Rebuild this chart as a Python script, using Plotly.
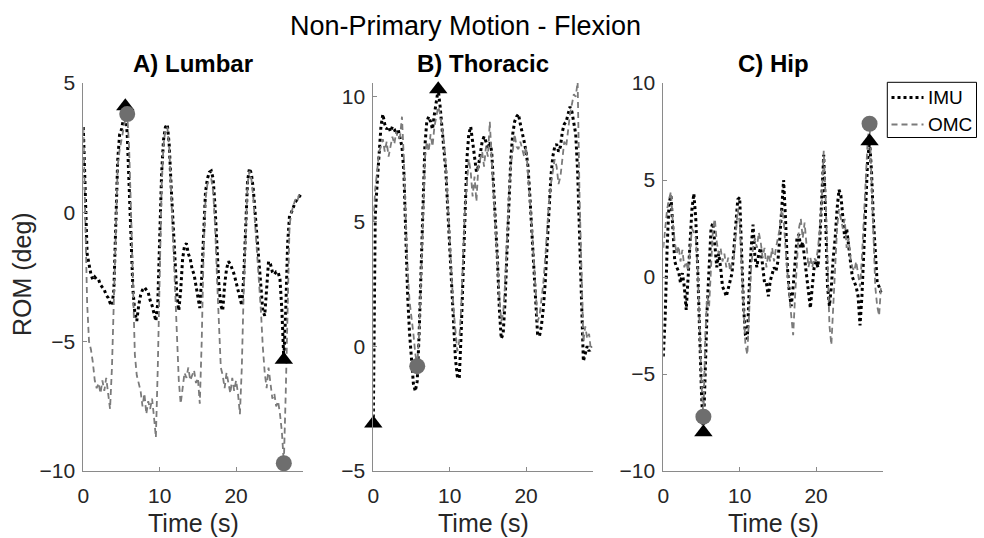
import numpy as np
import plotly.graph_objects as go

# Sampling grid (s) shared by every recording
time_s = np.arange(115) * 0.25

panel_titles = ["A) Lumbar", "B) Thoracic", "C) Hip"]
x_ticks = [0, 10, 20]
y_ticks = [[-10, -5, 0, 5], [-5, 0, 5, 10], [-10, -5, 0, 5, 10]]
y_ranges = [[-10, 5], [-5, 10.55], [-10, 10]]
legend_labels = ["IMU", "OMC"]

lumbar_imu = [
    3.3, 0.5, -1.6, -2.0,
    -2.4, -2.6, -2.5, -2.6,
    -2.6, -2.8, -2.9, -3.0,
    -3.2, -3.3, -3.5, -3.6,
    -3.0, -0.5, 2.0, 3.0,
    3.2, 3.6, 4.1, 3.0,
    1.0, -1.0, -3.0, -3.9,
    -4.2, -3.6, -3.2, -3.0,
    -2.9, -3.0, -3.1, -3.4,
    -3.6, -3.9, -4.2, -3.5,
    -1.0, 1.5, 2.8, 3.3,
    3.4, 2.6, 1.0, -0.5,
    -2.0, -3.2, -3.8, -3.0,
    -1.8, -1.3, -1.2, -1.6,
    -1.8, -2.2, -2.4, -2.8,
    -3.3, -3.7, -2.5, -0.5,
    0.8, 1.3, 1.55, 1.6,
    1.3, 0.2, -1.5, -2.8,
    -3.6, -3.8, -2.8, -2.2,
    -1.9, -2.0, -2.2, -2.4,
    -2.7, -3.0, -3.4, -3.6,
    -2.5, -0.5, 1.2, 1.7,
    1.5, 0.9, 0.0, -1.0,
    -2.0, -3.0, -3.8, -4.0,
    -3.0, -1.9, -2.0, -2.3,
    -2.4, -2.3, -2.3, -2.6,
    -3.8, -5.7, -3.8, -1.2,
    -0.1, 0.0, 0.2, 0.4,
    0.5, 0.6, 0.7,
]
lumbar_omc = [
    3.3, 0.0, -3.5, -5.0,
    -5.3, -5.8, -6.5, -6.8,
    -6.6, -7.0, -6.5, -6.9,
    -6.4, -7.0, -7.6, -6.0,
    -3.5, -0.5, 1.8, 2.4,
    2.8, 3.3, 3.6, 3.8,
    2.5, 0.0, -3.0, -5.5,
    -6.3, -6.6, -6.9, -7.5,
    -7.0, -7.8, -7.3, -7.6,
    -7.2, -7.9, -8.7, -6.0,
    -2.0, 1.0, 2.6, 3.2,
    3.3, 2.5, 0.8, -1.0,
    -3.0, -5.0, -6.5, -7.4,
    -6.8, -6.2, -6.4, -6.0,
    -6.5, -6.3, -6.1, -6.6,
    -6.4, -7.4, -5.0, -1.5,
    0.5, 1.1, 1.2, 1.3,
    0.8, -0.5, -2.5, -4.5,
    -6.0, -6.3, -6.8, -6.2,
    -6.6, -7.0, -6.4, -6.9,
    -6.5, -7.0, -7.8, -6.0,
    -3.0, -0.5, 1.1, 1.6,
    1.3, 0.6, -0.5, -1.5,
    -2.5, -3.8, -5.2, -6.2,
    -6.8, -6.0, -6.6, -7.2,
    -7.0, -7.5, -7.3, -7.8,
    -8.5, -9.7, -7.0, -3.0,
    -0.5, 0.0, 0.3, 0.5,
    0.4, 0.7, 0.6,
]

thoracic_imu = [
    -3.1, 5.2, 6.5, 7.5,
    8.8, 9.3, 8.9, 8.7,
    8.8, 8.6, 8.8, 8.7,
    8.5, 8.7, 8.3, 8.0,
    7.0, 4.5, 2.0, 0.5,
    -0.5, -1.5, -1.8, -1.4,
    0.5, 3.0, 6.0, 8.0,
    9.0, 9.2, 9.0, 8.7,
    9.3, 9.8, 10.3, 9.6,
    8.8, 8.0, 7.0, 5.5,
    4.0, 2.5, 1.0, -0.5,
    -1.2, -1.3, 0.5, 3.0,
    5.5, 7.5, 8.5, 8.8,
    8.2, 7.6, 7.0, 7.2,
    7.8, 8.2, 8.4, 8.2,
    7.9, 8.2, 7.8, 6.5,
    5.0, 3.5, 1.5, 0.3,
    0.5, 1.8, 3.8, 5.8,
    7.5, 8.5, 9.0, 9.2,
    9.3, 8.9, 8.6, 8.2,
    7.8, 7.2, 6.0, 4.5,
    3.0, 1.5, 0.5, 0.4,
    0.8, 1.5, 2.5, 4.0,
    5.5, 6.8, 7.6, 8.0,
    8.1, 7.8, 8.0, 8.6,
    8.9, 9.0, 9.3, 9.6,
    9.4, 9.0, 8.5, 7.0,
    4.5, 1.5, -0.6, -0.3,
    0.0, -0.2, 0.0,
]
thoracic_omc = [
    5.0, 6.3, 7.0, 7.8,
    8.0, 8.3, 7.8, 8.2,
    7.6, 8.0, 8.4, 8.1,
    8.6, 8.3, 8.4, 9.2,
    7.5, 5.0, 3.0, 1.8,
    1.2, 0.5, -0.3, -0.8,
    0.5, 2.5, 5.0, 7.5,
    8.2, 7.8, 8.5, 8.0,
    8.8, 9.2, 9.6, 9.3,
    8.7, 8.2, 7.2, 5.6,
    4.0, 2.8, 1.5, 0.5,
    -0.2, 0.2, 1.5, 3.5,
    5.5, 6.5, 7.5, 7.0,
    6.0, 6.8, 5.8, 7.2,
    7.5, 7.8, 7.2, 8.0,
    7.6, 9.0, 7.5, 6.0,
    4.8, 3.5, 2.0, 1.0,
    1.3, 2.5, 4.5, 6.0,
    7.3, 7.8, 8.5, 8.0,
    7.9, 8.2, 7.9, 7.6,
    8.0, 7.0, 6.0, 4.8,
    3.5, 2.2, 1.0, 1.2,
    1.8, 2.5, 3.5, 4.8,
    5.8, 6.5, 7.0, 7.5,
    7.2, 6.5, 6.8, 7.5,
    8.2, 8.0, 8.8, 9.3,
    9.7, 10.1, 10.0, 10.6,
    6.0, 2.5, 0.2, 0.8,
    0.3, 0.5, -0.2,
]

hip_imu = [
    -4.1, -2.0, 1.5, 3.8,
    4.2, 2.5, 0.8, 0.5,
    0.3, -0.3, 0.2, -0.5,
    -1.7, 0.0, 2.0, 3.5,
    4.3, 3.0, 0.5, -3.0,
    -6.0, -8.0, -4.0, -1.5,
    0.5, 2.5, 2.8, 1.5,
    0.5, 1.2, 0.5, -0.5,
    -0.7, -1.0, -0.6, -0.3,
    0.2, 1.5, 3.0, 4.0,
    4.1, 1.5, -1.5, -3.0,
    -3.2, -0.5, 1.5, 2.7,
    1.0, 0.5, 1.2, 1.5,
    0.5, -0.3, -0.3, -1.0,
    -0.2, 0.2, 0.5, 0.3,
    0.8, 2.0, 3.5, 5.0,
    3.0, 0.5, -0.8, -1.5,
    -0.5, 1.0, 2.0, 2.2,
    1.5, 1.8, 1.0, 0.0,
    -0.8, -1.6, -0.5, 0.5,
    0.8, 0.5, 2.0, 4.5,
    6.3, 3.0, -0.5, -1.5,
    -0.5, 1.0, 2.0, 3.5,
    4.5, 4.2, 3.0, 2.0,
    2.5, 1.5, 0.8, 0.0,
    -0.3, -0.5, -1.0, -2.5,
    -1.0, 1.5, 4.0, 6.0,
    7.0, 5.5, 3.0, 1.0,
    -0.3, -0.5, -0.8,
]
hip_omc = [
    1.5, 2.5, 3.5, 4.0,
    4.4, 2.8, 1.8, 1.2,
    1.6, 0.8, 1.4, 0.5,
    0.8, 0.3, 1.5, 2.5,
    2.3, 2.0, 0.5, -3.0,
    -5.5, -7.2, -3.0, -1.0,
    -1.5, 0.5, 2.5, 3.0,
    1.8, 1.2, 1.5, 0.8,
    1.2, 0.5, 1.0, 0.3,
    0.8, 1.0, 2.5, 3.5,
    2.8, 0.5, -2.0, -3.5,
    -4.0, -2.0, 0.5, 1.5,
    2.0, 1.5, 2.3, 1.8,
    1.0, 1.5, 0.5, 1.2,
    0.8, 1.5, 0.8, 1.5,
    2.0, 2.5, 3.5, 3.0,
    1.5, 0.0, -1.0, -2.0,
    -3.0, -1.0, 1.0, 2.5,
    3.0, 2.0, 2.8, 1.5,
    0.5, 1.0, 0.5, 1.0,
    0.8, 1.5, 2.5, 4.0,
    6.5, 4.0, 0.0, -2.5,
    -3.5, -1.5, 1.0, 2.5,
    3.5, 3.0, 2.5, 3.0,
    1.5, 2.0, 1.0, 0.5,
    0.3, 0.8, 0.0, -0.5,
    1.0, 3.0, 5.5, 7.0,
    7.9, 5.0, 2.0, -0.5,
    -1.5, -2.0, -0.5,
]

imu_series = [lumbar_imu, thoracic_imu, hip_imu]
omc_series = [lumbar_omc, thoracic_omc, hip_omc]

W, H = 984, 538
x_px = [(83.3, 303.3), (373.3, 593.3), (663.3, 883.3)]
y_dom = [1 - 471 / H, 1 - 83 / H]
TEXT = "#262626"
AXIS = "#8a8a8a"
FONT = "Liberation Sans, Arial, sans-serif"
IMU_COLOR = "#000000"
OMC_COLOR = "#7b7b7b"
IMU_LINE = dict(color=IMU_COLOR, width=3, dash="3px,3px")
OMC_LINE = dict(color=OMC_COLOR, width=1.8, dash="6px,4px")


def px(x):
    return x / W


def py(y):
    return 1 - y / H


fig = go.Figure()

for i in range(3):
    xa = "x" if i == 0 else f"x{i + 1}"
    ya = "y" if i == 0 else f"y{i + 1}"
    imu = np.array(imu_series[i])
    omc = np.array(omc_series[i])

    fig.add_trace(go.Scatter(
        x=time_s, y=imu, mode="lines", name=legend_labels[0],
        showlegend=False, xaxis=xa, yaxis=ya, line=IMU_LINE,
    ))
    fig.add_trace(go.Scatter(
        x=time_s, y=omc, mode="lines", name=legend_labels[1],
        showlegend=False, xaxis=xa, yaxis=ya, line=OMC_LINE,
    ))

    # Extremes of each recording
    imu_idx = [int(np.argmax(imu)), int(np.argmin(imu))]
    omc_idx = [int(np.argmax(omc)), int(np.argmin(omc))]
    fig.add_trace(go.Scatter(
        x=time_s[imu_idx], y=imu[imu_idx], mode="markers", showlegend=False,
        xaxis=xa, yaxis=ya, cliponaxis=False,
        marker=dict(symbol="triangle-up", size=16, color=IMU_COLOR),
    ))
    fig.add_trace(go.Scatter(
        x=time_s[omc_idx], y=omc[omc_idx], mode="markers", showlegend=False,
        xaxis=xa, yaxis=ya, cliponaxis=False,
        marker=dict(symbol="circle", size=16, color="#6e6e6e"),
    ))

axis_common = dict(
    showline=True, linecolor=AXIS, linewidth=1, mirror=False,
    showgrid=False, zeroline=False, ticks="inside", ticklen=4,
    tickcolor=AXIS, tickwidth=1, automargin=False,
    tickfont=dict(family=FONT, size=21, color=TEXT),
)

layout = {}
for i in range(3):
    key = "" if i == 0 else str(i + 1)
    x0, x1 = x_px[i]
    layout[f"xaxis{key}"] = dict(
        axis_common, domain=[px(x0), px(x1)], range=[0, 28.8],
        tickvals=x_ticks, anchor=f"y{key}", ticklabelstandoff=6,
    )
    layout[f"yaxis{key}"] = dict(
        axis_common, domain=y_dom, range=y_ranges[i],
        tickvals=y_ticks[i], anchor=f"x{key}", ticklabelstandoff=3,
    )

annotations = [
    dict(text="Non-Primary Motion - Flexion", x=px(465.5), y=py(26),
         xref="paper", yref="paper", showarrow=False, xanchor="center",
         yanchor="middle", font=dict(family=FONT, size=27, color="#000000")),
    dict(text="ROM (deg)", x=px(22), y=py(274), xref="paper", yref="paper",
         showarrow=False, textangle=-90, xanchor="center", yanchor="middle",
         font=dict(family=FONT, size=25, color=TEXT)),
]
for i in range(3):
    cx = px((x_px[i][0] + x_px[i][1]) / 2)
    annotations.append(dict(
        text=f"<b>{panel_titles[i]}</b>", x=cx, y=py(64),
        xref="paper", yref="paper", showarrow=False, xanchor="center",
        yanchor="middle", font=dict(family=FONT, size=24, color="#000000")))
    annotations.append(dict(
        text="Time (s)", x=cx, y=py(523), xref="paper", yref="paper",
        showarrow=False, xanchor="center", yanchor="middle",
        font=dict(family=FONT, size=25, color=TEXT)))

# Legend box with line samples
shapes = [
    dict(type="rect", xref="paper", yref="paper",
         x0=px(887.3), x1=px(976.5), y0=py(137.5), y1=py(82.3),
         line=dict(color="#000000", width=1), fillcolor="#ffffff", layer="above"),
    dict(type="line", xref="paper", yref="paper",
         x0=px(891.5), x1=px(923.5), y0=py(97.5), y1=py(97.5),
         line=IMU_LINE, layer="above"),
    dict(type="line", xref="paper", yref="paper",
         x0=px(891.5), x1=px(923.5), y0=py(124.5), y1=py(124.5),
         line=OMC_LINE, layer="above"),
]
for label, yc in zip(legend_labels, [97.5, 124.5]):
    annotations.append(dict(
        text=label, x=px(925.5), y=py(yc), xref="paper", yref="paper",
        showarrow=False, xanchor="left", yanchor="middle",
        font=dict(family=FONT, size=19, color="#000000")))

fig.update_layout(
    **layout,
    annotations=annotations,
    shapes=shapes,
    width=W, height=H,
    margin=dict(l=0, r=0, t=0, b=0, autoexpand=False),
    paper_bgcolor="#ffffff", plot_bgcolor="#ffffff",
    showlegend=False,
)

fig.write_html("out.html")
